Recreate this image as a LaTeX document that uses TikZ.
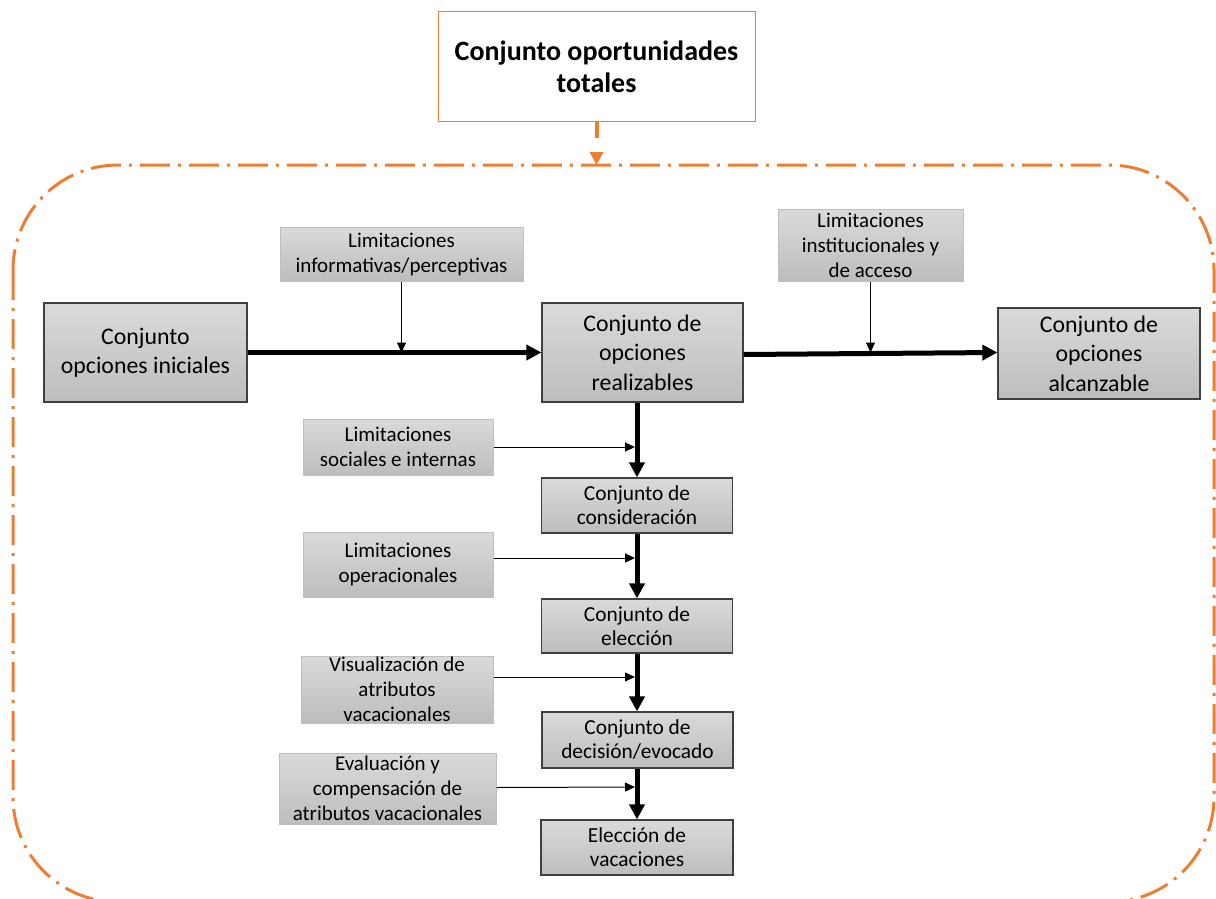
\documentclass[tikz,border=0pt]{standalone}
\usepackage{fontspec}
\setmainfont{Carlito}
\usetikzlibrary{arrows.meta}
\definecolor{accent}{HTML}{ED7D31}
\definecolor{boxtop}{HTML}{DADADA}
\definecolor{boxbot}{HTML}{BDBDBD}
\definecolor{mainedge}{HTML}{404040}
\definecolor{limedge}{HTML}{BFBFBF}
\tikzset{
  setbox/.style={draw=mainedge, line width=1.2pt, top color=boxtop, bottom color=boxbot,
    align=center, inner sep=0pt, font=\fontsize{23.8}{29.5}\selectfont},
  smallset/.style={setbox, font=\fontsize{21.4}{24}\selectfont},
  limbox/.style={draw=limedge, line width=1pt, top color=boxtop, bottom color=boxbot,
    align=center, inner sep=0pt, font=\fontsize{21}{25}\selectfont},
  flow/.style={line width=5pt, -{Triangle[length=15pt,width=15pt]}},
  feed/.style={line width=1pt, -{Triangle[length=10pt,width=9pt]}},
  frame/.style={draw=accent, line width=3pt, rounded corners=105pt,
    dash pattern=on 30pt off 8pt on 3pt off 8pt},
}
\begin{document}
\begin{tikzpicture}[x=1pt, y=-1pt]
\useasboundingbox (0,0) rectangle (1216,899);
\begin{scope}
\clip (0,0) rectangle (1216,899);
\draw[frame] (13,165) rectangle (1214,902);
\end{scope}

% overall opportunity set
\node[draw=accent, line width=1pt, fill=white, minimum width=317pt, minimum height=109pt,
  align=center, inner sep=0pt, font=\fontsize{28}{32}\selectfont\bfseries]
  (tot) at (596.5,66.5) {Conjunto oportunidades\\totales};
\coordinate (framein) at (596.5,165);
\draw[accent, line width=4pt, dash pattern=on 16pt off 16pt,
  -{Triangle[length=13pt,width=13pt]}] (tot.south) -- (framein);

% main sets
\node[setbox, minimum width=203pt, minimum height=99pt] (ini) at (145.5,352.5)
  {Conjunto\\opciones iniciales};
\node[setbox, minimum width=201pt, minimum height=99pt] (real) at (642.5,352.5)
  {Conjunto de\\opciones\\realizables};
\node[setbox, minimum width=202pt, minimum height=91pt] (alc) at (1099,353.5)
  {Conjunto de\\opciones\\alcanzable};
\node[smallset, minimum width=191pt, minimum height=55pt] (cons) at (637,505.5)
  {Conjunto de\\consideración};
\node[smallset, minimum width=191pt, minimum height=54pt] (elec) at (637,626)
  {Conjunto de\\elección};
\node[smallset, minimum width=191pt, minimum height=56pt] (deci) at (637.5,740)
  {Conjunto de\\decisión/evocado};
\node[smallset, minimum width=192pt, minimum height=55pt] (vac) at (637,847.5)
  {Elección de\\vacaciones};

% constraints
\node[limbox, minimum width=243pt, minimum height=54pt] (linf) at (401.5,254)
  {Limitaciones\\informativas/perceptivas};
\node[limbox, minimum width=185pt, minimum height=72pt] (linst) at (870.5,245)
  {Limitaciones\\institucionales y\\de acceso};
\node[limbox, minimum width=190pt, minimum height=56pt] (lsoc) at (398,447)
  {Limitaciones\\sociales e internas};
\node[limbox, minimum width=190pt, minimum height=65pt] (lop) at (398,564.5)
  {Limitaciones\\operacionales};
\node[limbox, minimum width=192pt, minimum height=67pt] (lvis) at (397,689.5)
  {Visualización de\\atributos\\vacacionales};
\node[limbox, minimum width=217pt, minimum height=71pt] (leva) at (387.5,788.5)
  {Evaluación y\\compensación de\\atributos vacacionales};

% main flow
\draw[flow] (ini.east) -- (real.west);
\draw[flow] ([yshift=-2pt]real.east) -- ([yshift=1pt]alc.west);
\draw[flow] (cons.north |- real.south) -- (cons.north);
\draw[flow] (cons.south) -- (cons.south |- elec.north);
\draw[flow] (elec.south) -- (elec.south |- deci.north);
\draw[flow] (vac.north |- deci.south) -- (vac.north);

% constraint feeds
\coordinate (hinf) at (401.5,352.5);
\coordinate (hinst) at (870.5,352.5);
\coordinate (hsoc) at (635,447);
\coordinate (hop) at (635,558);
\coordinate (hvis) at (635,677);
\coordinate (heva) at (635,787);
\draw[feed] (linf.south) -- (hinf);
\draw[feed] (linst.south) -- (hinst);
\draw[feed] (lsoc.east) -- (hsoc);
\draw[feed] (lop.east |- hop) -- (hop);
\draw[feed] (lvis.east |- hvis) -- (hvis);
\draw[feed] ([yshift=1pt]leva.east) -- (heva);
\end{tikzpicture}
\end{document}
